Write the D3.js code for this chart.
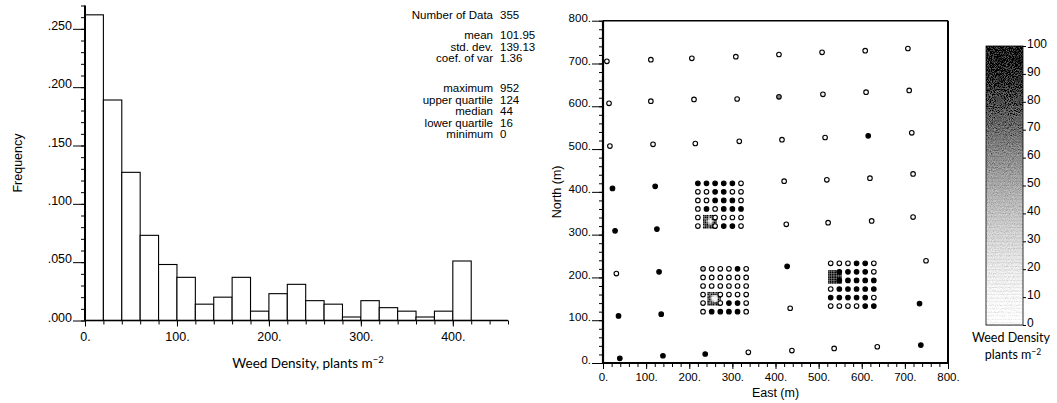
<!DOCTYPE html>
<html><head><meta charset="utf-8">
<script src="https://cdn.jsdelivr.net/npm/d3@7"></script>
<style>body{margin:0;background:#fff}svg{display:block}</style>
</head><body>
<svg id="chart" width="1057" height="403"></svg>
<script>
// ---------- histogram data ----------
const binStarts = [0,20,40,60,80,100,120,140,160,180,200,220,240,260,280,300,320,340,360,380,400];
const binFreq   = [0.262,0.189,0.127,0.073,0.048,0.037,0.014,0.020,0.037,0.008,0.023,0.031,0.017,0.014,0.003,0.017,0.011,0.008,0.003,0.008,0.051];
const binWidth = 20;
const histXTicks = [0,100,200,300,400];
const histXTickLabels = ["0.","100.","200.","300.","400."];
const histYTicks = [0,0.05,0.10,0.15,0.20,0.25];
const histYTickLabels = [".000",".050",".100",".150",".200",".250"];
const statLabels = ["Number of Data","mean","std. dev.","coef. of var","maximum","upper quartile","median","lower quartile","minimum"];
const statValues = ["355","101.95","139.13","1.36","952","124","44","16","0"];

// ---------- location map data (East, North in m; density in plants m^-2) ----------
const gridEast    = [9,111,206,308,408,508,608,707, 14,111,211,311,408,510,610,710, 16,116,214,316,415,515,615,716,
                     22,121,420,519,619,719, 28,125,425,522,623,719, 31,130,427,749, 36,135,434,734,
                     39,139,237,337,438,536,636,737];
const gridNorth   = [705,709,712,716,721,726,730,735, 607,612,616,617,622,628,633,637, 507,511,513,518,522,527,531,538,
                     408,413,425,428,432,442, 309,313,324,328,332,341, 209,213,226,239, 110,114,128,139,
                     11,17,21,25,29,34,38,42];
const gridDensity = [4,6,3,8,5,7,4,6, 5,8,6,9,62,14,7,9, 6,9,7,5,8,6,118,7,
                     132,146,8,6,5,9, 124,138,7,5,8,6, 9,112,128,7, 141,126,8,119,
                     134,122,117,8,6,7,5,131];

// 20 m infill clusters (columns East, rows North, density per row; null = covered by fine block)
const clusterEast  = [[220,240,260,280,300,320],[232,252,272,292,312,332],[528,548,568,588,608,628]];
const clusterNorth = [[420,400,380,360,340,320],[220,200,180,160,140,120],[233,213,193,173,153,133]];
const clusterDensity = [
  [[128,135,142,119,124,6],[5,8,131,126,9,7],[6,4,117,138,122,8],[7,129,9,134,121,113],[5,null,8,6,9,7],[6,null,7,125,118,5]],
  [[42,5,7,6,127,8],[6,4,8,5,7,9],[5,7,6,8,4,6],[7,null,5,9,6,8],[6,null,8,121,116,5],[7,133,124,119,128,6]],
  [[6,8,5,126,131,7],[null,137,129,142,118,6],[null,124,133,127,139,121],[8,131,125,138,122,117],[129,136,121,127,133,5],[7,6,8,5,124,131]]
];

// 4 m fine blocks (columns East, rows North, density level codes 0-9 per row)
const fineEast  = [[234,238,242,246,250,254,258,262],[244,248,252,256,260,264,268,272],[524,528,532,536,540,544,548,552]];
const fineNorth = [[344,340,336,332,328,324,320,316],[164,160,156,152,148,144,140,136],[215,211,207,203,199,195,191,187]];
const fineLevels = [
  ["87968978","79857697","96742869","87520378","78631587","97854796","68979867","89768998"],
  ["78686787","86979698","69531386","87302078","68410196","97642379","86979868","78786897"],
  ["98999899","89998989","99899998","98989899","89999989","99898999","98999898","89989999"]
];
const levelStep = 13;

const mapTicks = [0,100,200,300,400,500,600,700,800];
const mapTickLabels = ["0.","100.","200.","300.","400.","500.","600.","700.","800."];
const barTicks = [0,10,20,30,40,50,60,70,80,90,100];

// ---------- drawing ----------
const SANS = "'Liberation Sans', Arial, Helvetica, sans-serif";
const CMSS = "Lato, 'Open Sans', sans-serif";
const svg = d3.select("#chart");
const grey = d3.scalePow().exponent(1.6).domain([0,100]).range(["#ffffff","#000000"]).clamp(true);

function styleAxis(g, size){
  g.select(".domain").remove();
  g.selectAll("line").attr("stroke","#000").attr("stroke-width",1);
  g.attr("font-family",SANS).attr("font-size",size);
  g.selectAll("text").attr("fill","#000");
}

// Histogram
const hx = d3.scaleLinear().domain([0,460]).range([85,508]);
const hy = d3.scaleLinear().domain([0,0.27]).range([320.5,5.5]);
const H = svg.append("g");

H.selectAll("rect.bar").data(binStarts).join("rect").attr("class","bar")
  .attr("x",d=>hx(d)).attr("width",d=>hx(d+binWidth)-hx(d))
  .attr("y",(d,i)=>hy(binFreq[i])).attr("height",(d,i)=>hy(0)-hy(binFreq[i]))
  .attr("fill","#fff").attr("stroke","#000").attr("stroke-width",1.1);

H.append("g").attr("transform",`translate(0,${hy(0)})`)
  .call(d3.axisBottom(hx).tickValues(d3.range(0,461,20)).tickSize(4).tickFormat(""))
  .call(g=>styleAxis(g,12));
H.append("g").attr("transform",`translate(0,${hy(0)})`)
  .call(d3.axisBottom(hx).tickValues(histXTicks).tickSize(6).tickPadding(6).tickFormat((d,i)=>histXTickLabels[i]))
  .call(g=>styleAxis(g,12.5));
H.append("g").attr("transform",`translate(${hx(0)},0)`)
  .call(d3.axisLeft(hy).tickValues(d3.range(0,0.2701,0.01)).tickSize(4).tickFormat(""))
  .call(g=>styleAxis(g,12));
H.append("g").attr("transform",`translate(${hx(0)},0)`)
  .call(d3.axisLeft(hy).tickValues(histYTicks).tickSize(12).tickPadding(1).tickFormat((d,i)=>histYTickLabels[i]))
  .call(g=>{styleAxis(g,12.5); g.selectAll("text").attr("dy","0.05em");});

H.append("line").attr("x1",hx(0)).attr("x2",hx(460)).attr("y1",hy(0)).attr("y2",hy(0)).attr("stroke","#000").attr("stroke-width",1.6);
H.append("line").attr("x1",hx(0)).attr("x2",hx(0)).attr("y1",hy(0)).attr("y2",hy(0.27)).attr("stroke","#000").attr("stroke-width",2);

H.append("text").attr("transform",`translate(22,${hy(0.135)}) rotate(-90)`).attr("text-anchor","middle")
  .attr("font-family",SANS).attr("font-size",12.5).text("Frequency");
const hxl = H.append("text").attr("x",308).attr("y",368).attr("text-anchor","middle")
  .attr("font-family",CMSS).attr("font-size",13.5);
hxl.append("tspan").text("Weed Density, plants m");
hxl.append("tspan").attr("dy",-5).attr("font-size",9.5).text("\u22122");

const statY = [19,39,50.5,62,92,103.5,115,126.5,138];
const S = H.append("g").attr("font-family",SANS).attr("font-size",11.5);
S.selectAll("text.lab").data(statLabels).join("text").attr("class","lab")
  .attr("x",493).attr("y",(d,i)=>statY[i]).attr("text-anchor","end").text(d=>d);
S.selectAll("text.val").data(statValues).join("text").attr("class","val")
  .attr("x",500).attr("y",(d,i)=>statY[i]).text(d=>d);

// Location map
const sx = d3.scaleLinear().domain([0,800]).range([603,948]);
const sy = d3.scaleLinear().domain([0,800]).range([363,20.7]);
const M = svg.append("g");

// fine 4 m blocks
fineLevels.forEach((rows,b)=>{
  const step = sx(4)-sx(0);
  rows.forEach((row,i)=>{
    row.split("").forEach((c,j)=>{
      M.append("rect")
        .attr("x",sx(fineEast[b][j])-step/2).attr("y",sy(fineNorth[b][i])-step/2)
        .attr("width",step*0.9).attr("height",step*0.9)
        .attr("fill",grey(+c*levelStep));
    });
  });
});

function dot(e,n,v){
  M.append("circle").attr("cx",sx(e)).attr("cy",sy(n)).attr("r",2.3)
    .attr("fill",grey(v)).attr("stroke","#000").attr("stroke-width",1.1);
}
gridEast.forEach((e,i)=>dot(e,gridNorth[i],gridDensity[i]));
clusterDensity.forEach((rows,c)=>{
  rows.forEach((row,i)=>row.forEach((v,j)=>{ if(v!==null) dot(clusterEast[c][j],clusterNorth[c][i],v); }));
});

M.append("g").attr("transform",`translate(0,${sy(0)})`)
  .call(d3.axisBottom(sx).tickValues(d3.range(0,801,20)).tickSize(4).tickFormat(""))
  .call(g=>styleAxis(g,11.5));
M.append("g").attr("transform",`translate(0,${sy(0)})`)
  .call(d3.axisBottom(sx).tickValues(mapTicks).tickSize(6).tickPadding(4).tickFormat((d,i)=>mapTickLabels[i]))
  .call(g=>styleAxis(g,11.5));
M.append("g").attr("transform",`translate(${sx(0)},0)`)
  .call(d3.axisLeft(sy).tickValues(d3.range(0,801,20)).tickSize(4).tickFormat(""))
  .call(g=>styleAxis(g,11.5));
M.append("g").attr("transform",`translate(${sx(0)},0)`)
  .call(d3.axisLeft(sy).tickValues(mapTicks).tickSize(11).tickPadding(1).tickFormat((d,i)=>mapTickLabels[i]))
  .call(g=>{styleAxis(g,11.5); g.selectAll("text").attr("dy","0.05em");});

M.append("line").attr("x1",sx(0)).attr("x2",sx(800)).attr("y1",sy(0)).attr("y2",sy(0)).attr("stroke","#000").attr("stroke-width",2);
M.append("line").attr("x1",sx(0)).attr("x2",sx(0)).attr("y1",sy(0)).attr("y2",sy(800)).attr("stroke","#000").attr("stroke-width",2.2);
M.append("line").attr("x1",sx(0)).attr("x2",sx(800)).attr("y1",sy(800)).attr("y2",sy(800)).attr("stroke","#000").attr("stroke-width",1.5);
M.append("line").attr("x1",sx(800)).attr("x2",sx(800)).attr("y1",sy(0)).attr("y2",sy(800)).attr("stroke","#000").attr("stroke-width",2);

M.append("text").attr("transform",`translate(561,${sy(400)}) rotate(-90)`).attr("text-anchor","middle")
  .attr("font-family",SANS).attr("font-size",12.5).text("North (m)");
M.append("text").attr("x",sx(400)).attr("y",397).attr("text-anchor","middle")
  .attr("font-family",SANS).attr("font-size",12.5).text("East (m)");

// Colour bar
const cy = d3.scaleLinear().domain([0,100]).range([325,46]);
const cbX0 = 986, cbX1 = 1023;
const defs = svg.append("defs");
const f = defs.append("filter").attr("id","grain").attr("x",0).attr("y",0).attr("width","100%").attr("height","100%");
f.append("feTurbulence").attr("type","fractalNoise").attr("baseFrequency",0.95).attr("numOctaves",2).attr("seed",7).attr("result","noise");
f.append("feColorMatrix").attr("in","noise").attr("type","matrix")
  .attr("values","1 0 0 0 0  1 0 0 0 0  1 0 0 0 0  0 0 0 0 1").attr("result","gnoise");
f.append("feComposite").attr("in","SourceGraphic").attr("in2","gnoise").attr("operator","arithmetic")
  .attr("k1",0).attr("k2",1).attr("k3",0.5).attr("k4",-0.25);

const C = svg.append("g");
const CB = C.append("g").attr("filter","url(#grain)");
CB.selectAll("rect").data(d3.range(0,100,0.5)).join("rect")
  .attr("x",cbX0).attr("width",cbX1-cbX0)
  .attr("y",d=>cy(d+0.5)).attr("height",d=>cy(d)-cy(d+0.5)+0.3)
  .attr("fill",d=>grey(d+0.25));
C.append("rect").attr("x",cbX0).attr("y",cy(100)).attr("width",cbX1-cbX0).attr("height",cy(0)-cy(100))
  .attr("fill","none").attr("stroke","#000").attr("stroke-width",0.8);
C.append("g").attr("transform",`translate(${cbX1},0)`)
  .call(d3.axisRight(cy).tickValues(barTicks).tickSize(3).tickPadding(1))
  .call(g=>{styleAxis(g,12); g.selectAll("text").attr("dy","0.1em");});

C.append("text").attr("x",1011).attr("y",342).attr("text-anchor","middle")
  .attr("font-family",CMSS).attr("font-size",12.5).text("Weed Density");
const cbl = C.append("text").attr("x",1013).attr("y",359).attr("text-anchor","middle")
  .attr("font-family",CMSS).attr("font-size",12.5);
cbl.append("tspan").text("plants m");
cbl.append("tspan").attr("dy",-4).attr("font-size",8.5).text("\u22122");
</script>
</body></html>
